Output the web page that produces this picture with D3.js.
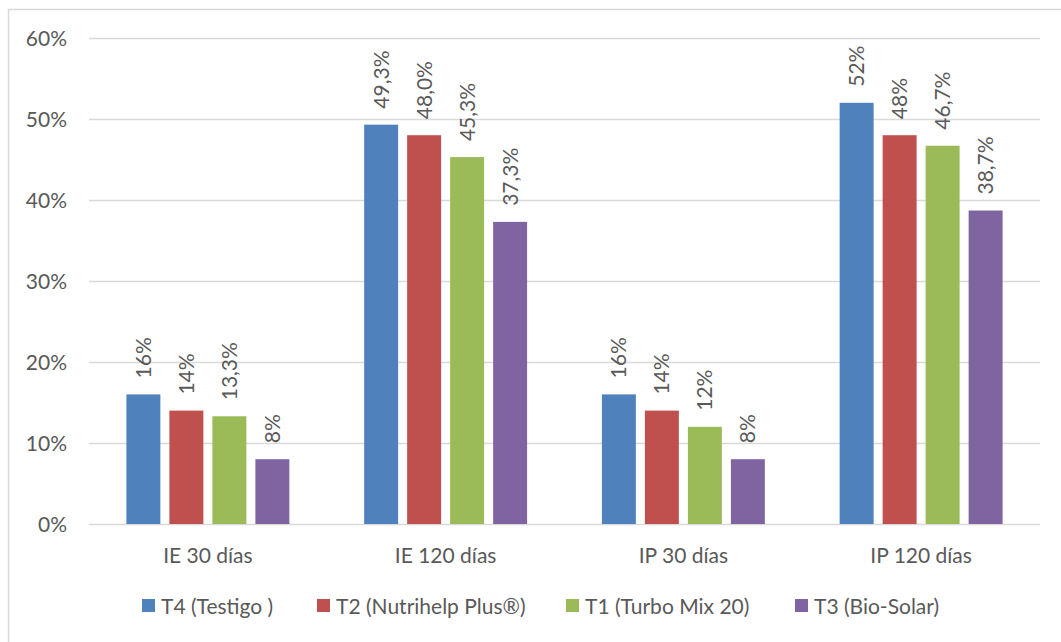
<!DOCTYPE html>
<html>
<head>
<meta charset="utf-8">
<script src="https://cdn.jsdelivr.net/npm/d3@7"></script>
<style>
  html, body { margin: 0; padding: 0; background: #fff; }
  svg { display: block; }
  text { font-family: Lato, "Open Sans", sans-serif; fill: #595959; }
</style>
</head>
<body>
<svg id="chart" width="1061" height="642"></svg>
<script>
// Categories on the x axis
const categories = ["IE 30 días", "IE 120 días", "IP 30 días", "IP 120 días"];

// Treatment series (legend order)
const seriesNames = ["T4 (Testigo )", "T2 (Nutrihelp Plus®)", "T1 (Turbo Mix 20)", "T3 (Bio-Solar)"];
const seriesColors = ["#4F81BD", "#C0504D", "#9BBB59", "#8064A2"];

// Percent values per series, one per category
const t4Values = [16, 49.3, 16, 52];
const t2Values = [14, 48.0, 14, 48];
const t1Values = [13.3, 45.3, 12, 46.7];
const t3Values = [8, 37.3, 8, 38.7];

// Decimal places shown in each value label
const t4Decimals = [0, 1, 0, 0];
const t2Decimals = [0, 1, 0, 0];
const t1Decimals = [1, 1, 0, 1];
const t3Decimals = [0, 1, 0, 1];

// Y axis ticks
const yTicks = [0, 10, 20, 30, 40, 50, 60];

const seriesValues = [t4Values, t2Values, t1Values, t3Values];
const seriesDecimals = [t4Decimals, t2Decimals, t1Decimals, t3Decimals];

const fontSize = 21;
const svg = d3.select("#chart");

// Outer chart frame
svg.append("rect")
  .attr("x", 8.5).attr("y", 9.5)
  .attr("width", 1060).attr("height", 640)
  .attr("fill", "none")
  .attr("stroke", "#D9D9D9")
  .attr("stroke-width", 1.5);

const plot = { left: 89, right: 1040, top: 38, bottom: 524 };

const y = d3.scaleLinear().domain([0, 60]).range([plot.bottom, plot.top]);
const x0 = d3.scaleBand().domain(categories).range([plot.left, plot.right]).padding(0);
const x1 = d3.scaleBand().domain(d3.range(seriesNames.length))
  .range([0, x0.bandwidth()])
  .paddingInner(0.21)
  .paddingOuter(0.87);

// Gridlines
svg.append("g").selectAll("line")
  .data(yTicks)
  .join("line")
  .attr("x1", plot.left).attr("x2", plot.right)
  .attr("y1", d => Math.round(y(d)) + 0.5)
  .attr("y2", d => Math.round(y(d)) + 0.5)
  .attr("stroke", "#D9D9D9")
  .attr("stroke-width", 1.3);

// Y tick labels
svg.append("g").selectAll("text")
  .data(yTicks)
  .join("text")
  .attr("x", 67)
  .attr("y", d => y(d))
  .attr("dy", "0.36em")
  .attr("text-anchor", "end")
  .attr("font-size", fontSize)
  .text(d => d + "%");

// Category labels
svg.append("g").selectAll("text")
  .data(categories)
  .join("text")
  .attr("x", d => x0(d) + x0.bandwidth() / 2)
  .attr("y", 563)
  .attr("text-anchor", "middle")
  .attr("font-size", fontSize)
  .text(d => d);

// Bars and rotated value labels
const cells = [];
categories.forEach((c, ci) => {
  seriesValues.forEach((vals, si) => {
    cells.push({ cat: c, si, value: vals[ci], dec: seriesDecimals[si][ci] });
  });
});

const fmt = (v, dec) => v.toFixed(dec).replace(".", ",") + "%";

svg.append("g").selectAll("rect")
  .data(cells)
  .join("rect")
  .attr("x", d => x0(d.cat) + x1(d.si))
  .attr("y", d => y(d.value))
  .attr("width", x1.bandwidth())
  .attr("height", d => plot.bottom - y(d.value))
  .attr("fill", d => seriesColors[d.si]);

svg.append("g").selectAll("text")
  .data(cells)
  .join("text")
  .attr("transform", d => {
    const cx = x0(d.cat) + x1(d.si) + x1.bandwidth() / 2;
    const ty = y(d.value) - 16;
    return `translate(${cx},${ty}) rotate(-90)`;
  })
  .attr("dy", "0.36em")
  .attr("text-anchor", "start")
  .attr("font-size", fontSize)
  .text(d => fmt(d.value, d.dec));

// Legend
const legendX = [142, 317, 566, 795];
const legend = svg.append("g").selectAll("g")
  .data(seriesNames)
  .join("g")
  .attr("transform", (d, i) => `translate(${legendX[i]},606)`);

legend.append("rect")
  .attr("x", 0).attr("y", -7)
  .attr("width", 13).attr("height", 13)
  .attr("fill", (d, i) => seriesColors[i]);

legend.append("text")
  .attr("x", 19)
  .attr("y", 0)
  .attr("dy", "0.36em")
  .attr("font-size", fontSize)
  .text(d => d);
</script>
</body>
</html>
